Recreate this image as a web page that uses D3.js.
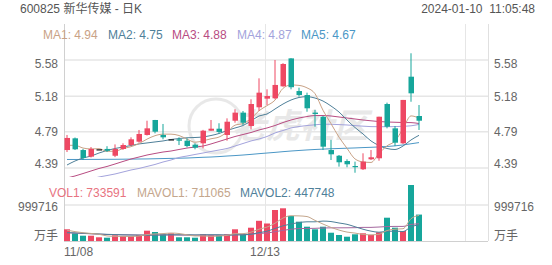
<!DOCTYPE html>
<html>
<head>
<meta charset="utf-8">
<script src="https://cdn.jsdelivr.net/npm/d3@7/dist/d3.min.js"></script>
<style>
body { margin: 0; background: #fff; }
svg text { font-family: "Liberation Sans", Arial, "Noto Sans CJK SC", sans-serif; font-size: 12px; }
</style>
</head>
<body>
<div id="chart"></div>
<script>
// daily candles 2023-11-08 .. 2024-01-10 (45 sessions)
var openP  = [4.588,4.717,4.588,4.515,4.596,4.600,4.525,4.600,4.643,4.680,4.754,4.919,4.754,4.706,4.706,4.691,4.647,4.662,4.801,4.823,4.754,4.911,5.000,4.853,5.059,5.154,5.158,5.290,5.598,5.238,5.194,5.000,4.955,4.588,4.525,4.467,4.412,4.376,4.486,4.497,5.095,4.827,4.662,5.396,4.963];
var highP  = [4.754,4.726,4.600,4.621,4.596,4.630,4.650,4.662,4.728,4.809,4.911,4.920,4.875,4.706,4.728,4.717,4.662,4.810,4.919,4.883,4.937,5.037,5.018,5.147,5.378,5.257,5.580,5.545,5.600,5.275,5.220,5.030,4.963,4.700,4.533,4.486,4.460,4.552,4.588,4.955,5.110,4.853,5.140,5.654,5.084];
var lowP   = [4.566,4.588,4.478,4.506,4.596,4.566,4.510,4.590,4.632,4.669,4.748,4.772,4.706,4.706,4.643,4.618,4.596,4.607,4.800,4.772,4.691,4.889,4.864,4.816,5.021,5.084,5.147,5.286,5.257,5.176,5.010,4.845,4.588,4.478,4.405,4.398,4.338,4.368,4.478,4.470,4.827,4.632,4.655,5.120,4.809];
var closeP = [4.721,4.596,4.500,4.600,4.596,4.580,4.600,4.643,4.706,4.765,4.827,4.790,4.728,4.706,4.691,4.632,4.614,4.801,4.823,4.787,4.900,5.000,4.889,5.095,5.220,5.183,5.305,5.536,5.280,5.194,5.048,4.985,4.625,4.541,4.453,4.431,4.401,4.460,4.508,4.955,4.845,4.669,5.140,5.213,4.911];

var ma1 = [4.640,4.640,4.610,4.600,4.603,4.574,4.575,4.604,4.625,4.659,4.708,4.746,4.763,4.763,4.748,4.709,4.674,4.689,4.712,4.731,4.785,4.862,4.880,4.934,5.021,5.077,5.138,5.268,5.305,5.300,5.273,5.209,5.026,4.879,4.730,4.607,4.490,4.457,4.451,4.551,4.634,4.687,4.823,4.964,4.940];
var ma2 = [4.423,4.467,4.500,4.522,4.555,4.583,4.605,4.621,4.638,4.655,4.666,4.677,4.688,4.704,4.715,4.723,4.726,4.732,4.748,4.770,4.803,4.831,4.858,4.908,4.963,4.985,5.040,5.095,5.139,5.167,5.176,5.161,5.128,5.073,5.007,4.919,4.836,4.765,4.688,4.638,4.605,4.594,4.632,4.699,4.750];
var ma3 = [4.280,4.302,4.329,4.357,4.385,4.407,4.434,4.462,4.489,4.511,4.533,4.550,4.566,4.577,4.594,4.610,4.621,4.632,4.655,4.682,4.710,4.737,4.759,4.781,4.809,4.831,4.858,4.891,4.919,4.941,4.957,4.968,4.968,4.963,4.952,4.941,4.930,4.919,4.910,4.902,4.897,4.894,4.891,4.890,4.880];
var ma4 = [4.200,4.225,4.247,4.269,4.291,4.307,4.324,4.346,4.368,4.385,4.407,4.429,4.456,4.478,4.506,4.522,4.539,4.555,4.572,4.588,4.605,4.632,4.660,4.688,4.710,4.737,4.776,4.803,4.831,4.847,4.858,4.866,4.872,4.872,4.868,4.864,4.857,4.851,4.846,4.845,4.845,4.846,4.850,4.855,4.870];
var ma5 = [4.484,4.484,4.484,4.485,4.485,4.486,4.486,4.487,4.488,4.489,4.490,4.492,4.494,4.496,4.498,4.500,4.504,4.508,4.511,4.516,4.522,4.527,4.533,4.540,4.548,4.555,4.562,4.570,4.577,4.583,4.589,4.594,4.598,4.602,4.605,4.608,4.611,4.615,4.618,4.622,4.627,4.634,4.644,4.657,4.670];

var vol = [325000,214000,147000,147000,103000,92000,158000,139000,139000,167000,286000,250000,186000,214000,103000,103000,92000,186000,158000,158000,186000,325000,194000,369000,561000,486000,861000,908000,694000,536000,397000,325000,397000,230000,167000,119000,186000,214000,167000,242000,647000,369000,278000,1555000,733591];
var mavol1 = [300000,260000,230000,210000,187000,141000,129000,128000,126000,139000,178000,196000,206000,221000,208000,171000,140000,140000,128000,139000,156000,203000,204000,246000,327000,387000,494000,637000,702000,697000,679000,572000,470000,377000,303000,248000,220000,183000,171000,186000,291000,328000,341000,618000,711065];
var mavol2 = [230000,225000,215000,205000,195000,185000,178000,172000,168000,163000,159000,163000,167000,173000,173000,175000,168000,173000,175000,174000,164000,171000,172000,187000,233000,272000,348000,421000,474000,512000,533000,533000,553000,540000,500000,463000,396000,327000,274000,244000,269000,274000,262000,394000,447748];
var mavol3 = [230000,220000,210000,200000,190000,180000,175000,170000,168000,166000,168000,170000,170000,168000,165000,163000,162000,162000,162000,162000,161000,172000,175000,188000,211000,223000,257000,296000,326000,345000,348000,352000,362000,365000,366000,367000,370000,378000,378000,388000,401000,405000,405000,460000,476000];

var priceTicks = [5.58, 5.18, 4.79, 4.39];
var volTicks = [999716, 0];
var volTickLabels = ['999716', '万手'];
var dateTicks = [0, 25];
var dateLabels = ['11/08', '12/13'];

var maNames = ['MA1', 'MA2', 'MA3', 'MA4', 'MA5'];
var maLast = ['4.94', '4.75', '4.88', '4.87', '4.67'];
var maColors = ['#c9a286', '#4f8099', '#b84c82', '#a3a3dc', '#4b97c6'];
var volNames = ['VOL1', 'MAVOL1', 'MAVOL2'];
var volLast = ['733591', '711065', '447748'];
var volColors = ['#e8737f', '#c4a68c', '#4f8099'];

var UP = '#ee4863', DOWN = '#16a69b';

var w = 552, h = 265;
var svg = d3.select('#chart').append('svg')
    .attr('width', w)
    .attr('height', h);

var x = d3.scaleLinear().domain([0, 53]).range([64, 488]);
var y = d3.scaleLinear().domain([4.39, 5.58]).range([168, 60]);
var vy = d3.scaleLinear().domain([0, 999716]).range([241, 205]);

// header
svg.append('text').attr('x', 20).attr('y', 13).attr('fill', '#555')
    .text('600825 新华传媒 - 日K');
svg.append('text').attr('x', 535).attr('y', 13).attr('fill', '#555')
    .attr('text-anchor', 'end').attr('xml:space', 'preserve')
    .text('2024-01-10  11:05:48');

// watermark
var wm = svg.append('g').attr('opacity', 0.4);
wm.append('circle').attr('cx', 216).attr('cy', 126).attr('r', 27)
    .attr('fill', 'none').attr('stroke', '#c8c8c8').attr('stroke-width', 3);
wm.append('text').attr('x', 232).attr('y', 138).attr('fill', '#c8c8c8')
    .style('font-size', '34px').style('font-style', 'italic').style('font-weight', 'bold')
    .style('font-family', '"Noto Sans CJK SC", sans-serif')
    .text('老虎社区');

// grid
svg.selectAll('.hgrid').data(priceTicks).enter().append('line')
    .attr('x1', 64).attr('x2', 488)
    .attr('y1', function(d) { return y(d); }).attr('y2', function(d) { return y(d); })
    .attr('stroke', '#e6e6e6').attr('stroke-width', 1.5);
svg.append('line').attr('x1', 64).attr('x2', 488)
    .attr('y1', vy(volTicks[0])).attr('y2', vy(volTicks[0]))
    .attr('stroke', '#e6e6e6').attr('stroke-width', 1.5);
svg.selectAll('.vgrid').data([25, 50]).enter().append('line')
    .attr('x1', function(d) { return x(d) + 1.5; }).attr('x2', function(d) { return x(d) + 1.5; })
    .attr('y1', 24).attr('y2', 241)
    .attr('stroke', '#e6e6e6');
svg.append('line').attr('x1', x(0) + 0.5).attr('x2', x(0) + 0.5).attr('y1', 24).attr('y2', 241).attr('stroke', '#d0d0d0');
svg.append('line').attr('x1', x(53) + 0.5).attr('x2', x(53) + 0.5).attr('y1', 24).attr('y2', 241).attr('stroke', '#e0e0e0');
svg.append('line').attr('x1', 64).attr('x2', 488).attr('y1', 241.5).attr('y2', 241.5).attr('stroke', '#d0d0d0');

// axis labels
var clampP = function(v) { return Math.max(64, Math.min(164, v)); };
svg.selectAll('.yl').data(priceTicks).enter().append('text')
    .attr('x', 58).attr('y', function(d) { return clampP(y(d)); })
    .attr('dy', '0.35em').attr('text-anchor', 'end').attr('fill', '#666')
    .text(function(d) { return d.toFixed(2); });
svg.selectAll('.yr').data(priceTicks).enter().append('text')
    .attr('x', 494).attr('y', function(d) { return clampP(y(d)); })
    .attr('dy', '0.35em').attr('fill', '#666')
    .text(function(d) { return d.toFixed(2); });
var clampV = function(v) { return Math.max(207, Math.min(236, v)); };
svg.selectAll('.vl').data(volTicks).enter().append('text')
    .attr('x', 58).attr('y', function(d) { return clampV(vy(d)); })
    .attr('dy', '0.35em').attr('text-anchor', 'end').attr('fill', '#666')
    .text(function(d, i) { return volTickLabels[i]; });
svg.selectAll('.vr').data(volTicks).enter().append('text')
    .attr('x', 494).attr('y', function(d) { return clampV(vy(d)); })
    .attr('dy', '0.35em').attr('fill', '#666')
    .text(function(d, i) { return volTickLabels[i]; });
svg.selectAll('.xl').data(dateTicks).enter().append('text')
    .attr('x', function(d) { return d === 0 ? x(d) : x(d) + 1; })
    .attr('y', 256)
    .attr('text-anchor', function(d) { return d === 0 ? 'start' : 'middle'; })
    .attr('fill', '#666')
    .text(function(d, i) { return dateLabels[i]; });

// legends
var maLegX = [43, 108, 172, 237, 301];
svg.selectAll('.malg').data(maNames).enter().append('text')
    .attr('x', function(d, i) { return maLegX[i]; }).attr('y', 39)
    .attr('fill', function(d, i) { return maColors[i]; })
    .text(function(d, i) { return d + ': ' + maLast[i]; });
var volLegX = [49, 137, 240];
svg.selectAll('.vlg').data(volNames).enter().append('text')
    .attr('x', function(d, i) { return volLegX[i]; }).attr('y', 197)
    .attr('fill', function(d, i) { return volColors[i]; })
    .text(function(d, i) { return d + ': ' + volLast[i]; });

// clip for MA lines
svg.append('clipPath').attr('id', 'pclip').append('rect')
    .attr('x', 64).attr('y', 24).attr('width', 424).attr('height', 153);

var idx = d3.range(openP.length);
var cx = function(i) { return x(i) + 3; };
var candleColor = function(i) {
  if (closeP[i] > openP[i]) return UP;
  if (closeP[i] < openP[i]) return DOWN;
  return '#111';
};

// MA lines
var maLine = d3.line()
    .x(function(d, i) { return cx(i); })
    .y(function(d) { return y(d); })
    .curve(d3.curveMonotoneX);
var maG = svg.append('g').attr('clip-path', 'url(#pclip)');
[ma5, ma4, ma3, ma2, ma1].forEach(function(s, j) {
  maG.append('path').datum(s)
      .attr('d', maLine)
      .attr('fill', 'none')
      .attr('stroke', maColors[4 - j])
      .attr('stroke-width', 1);
});

// candles
var cg = svg.append('g');
cg.selectAll('.wick').data(idx).enter().append('line')
    .attr('x1', function(i) { return cx(i); }).attr('x2', function(i) { return cx(i); })
    .attr('y1', function(i) { return y(highP[i]); })
    .attr('y2', function(i) { return y(lowP[i]); })
    .attr('stroke', candleColor).attr('stroke-width', 1);
cg.selectAll('.body').data(idx).enter().append('rect')
    .attr('x', function(i) { return x(i) + 0.5; })
    .attr('width', 5.5)
    .attr('y', function(i) { return y(Math.max(openP[i], closeP[i])); })
    .attr('height', function(i) { return Math.max(1.2, Math.abs(y(openP[i]) - y(closeP[i]))); })
    .attr('fill', candleColor);

// volume
svg.selectAll('.vbar').data(idx).enter().append('rect')
    .attr('x', function(i) { return x(i); })
    .attr('width', 6)
    .attr('y', function(i) { return vy(vol[i]); })
    .attr('height', function(i) { return vy(0) - vy(vol[i]); })
    .attr('fill', function(i) { return closeP[i] >= openP[i] ? UP : DOWN; });

var volLine = d3.line()
    .x(function(d, i) { return cx(i); })
    .y(function(d) { return vy(d); })
    .curve(d3.curveMonotoneX);
[[mavol3, '#a4679e'], [mavol2, volColors[2]], [mavol1, volColors[1]]].forEach(function(p) {
  svg.append('path').datum(p[0])
      .attr('d', volLine)
      .attr('fill', 'none')
      .attr('stroke', p[1])
      .attr('stroke-width', 1);
});
</script>
</body>
</html>
